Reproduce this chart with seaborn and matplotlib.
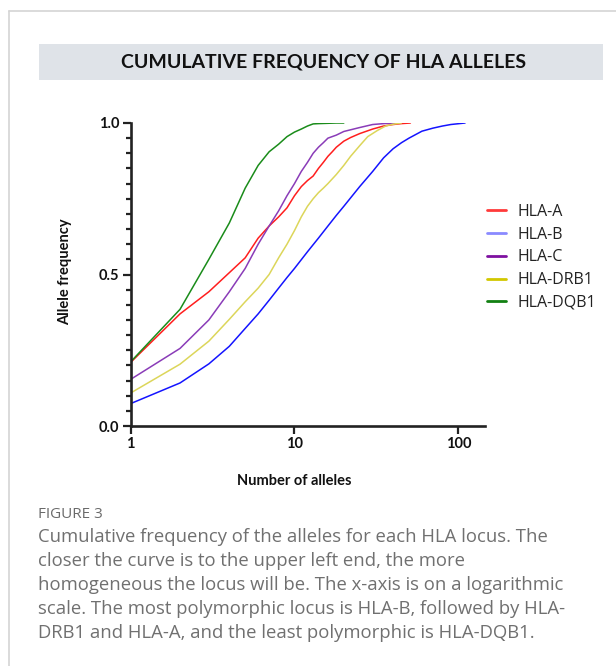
import numpy as np
import pandas as pd
import seaborn as sns
import matplotlib
matplotlib.use('Agg')
import matplotlib.pyplot as plt
from matplotlib.lines import Line2D
from matplotlib.patches import Rectangle

# 데이터
loci = ['HLA-A', 'HLA-B', 'HLA-C', 'HLA-DRB1', 'HLA-DQB1']

a_x = [1, 2, 3, 4, 5, 6, 7, 8, 9, 10, 11, 12, 13, 14, 15, 16, 17, 18, 20, 22, 25, 30, 35, 40, 45, 51]
a_y = [0.21, 0.37, 0.443, 0.506, 0.555, 0.62, 0.66, 0.69, 0.72, 0.76, 0.79, 0.81, 0.825, 0.85, 0.87,
       0.89, 0.905, 0.92, 0.94, 0.952, 0.965, 0.98, 0.99, 0.995, 0.998, 1.0]

b_x = [1, 2, 3, 4, 5, 6, 7, 8, 9, 10, 12, 14, 16, 18, 20, 25, 30, 35, 40, 45, 50, 60, 70, 80, 90, 110]
b_y = [0.074, 0.142, 0.205, 0.263, 0.322, 0.37, 0.415, 0.455, 0.49, 0.52, 0.575, 0.62, 0.66, 0.695,
       0.725, 0.79, 0.84, 0.885, 0.915, 0.935, 0.95, 0.973, 0.983, 0.99, 0.995, 1.0]

c_x = [1, 2, 3, 4, 5, 6, 7, 8, 9, 10, 11, 12, 13, 14, 15, 16, 18, 20, 25, 30, 35, 41]
c_y = [0.154, 0.256, 0.35, 0.443, 0.52, 0.6, 0.66, 0.71, 0.76, 0.80, 0.84, 0.87, 0.9, 0.92, 0.935,
       0.95, 0.96, 0.972, 0.985, 0.995, 0.998, 1.0]

drb1_x = [1, 2, 3, 4, 5, 6, 7, 8, 9, 10, 11, 12, 13, 14, 15, 16, 18, 20, 22, 25, 28, 32, 36, 40, 45]
drb1_y = [0.109, 0.204, 0.28, 0.352, 0.41, 0.455, 0.5, 0.555, 0.6, 0.645, 0.69, 0.725, 0.75, 0.77,
          0.785, 0.8, 0.83, 0.86, 0.89, 0.925, 0.955, 0.975, 0.99, 0.996, 1.0]

dqb1_x = [1, 2, 3, 4, 5, 6, 7, 8, 9, 10, 11, 12, 13, 14, 16, 18, 20]
dqb1_y = [0.212, 0.385, 0.55, 0.67, 0.785, 0.86, 0.905, 0.93, 0.955, 0.97, 0.98, 0.99, 0.997, 0.998,
          0.999, 1.0, 1.0]

line_colors = ['#ff1e1e', '#1414ff', '#8a3cb8', '#dcd65a', '#1a8c1a']
legend_colors = ['#ff3a3a', '#8a8aff', '#7e10a0', '#d2c800', '#128012']

df = pd.concat([
    pd.DataFrame({'x': a_x, 'y': a_y, 'locus': 'HLA-A'}),
    pd.DataFrame({'x': b_x, 'y': b_y, 'locus': 'HLA-B'}),
    pd.DataFrame({'x': c_x, 'y': c_y, 'locus': 'HLA-C'}),
    pd.DataFrame({'x': drb1_x, 'y': drb1_y, 'locus': 'HLA-DRB1'}),
    pd.DataFrame({'x': dqb1_x, 'y': dqb1_y, 'locus': 'HLA-DQB1'}),
])

sns.set_style('ticks')
plt.rcParams['font.family'] = ['Open Sans', 'DejaVu Sans']

fig = plt.figure(figsize=(6.16, 6.66), dpi=100)
W, H = 616, 666

# 외곽 테두리, 제목 배경
fig.add_artist(Line2D([9 / W, 1], [1 - 11 / H, 1 - 11 / H], color='#d4d4d4', lw=1.2))
fig.add_artist(Line2D([9 / W, 9 / W], [0, 1 - 11 / H], color='#d4d4d4', lw=1.2))
fig.add_artist(Rectangle((39 / W, 1 - 80 / H), (603 - 39) / W, 36 / H,
                         facecolor='#dfe3e8', edgecolor='none'))
fig.text(324 / W, 1 - 62.5 / H, 'CUMULATIVE FREQUENCY OF HLA ALLELES', ha='center', va='center',
         fontsize=14, fontweight='bold', color='#111111', family='Lato')

ax = fig.add_axes([130.7 / W, 1 - 426 / H, (485 - 130.7) / W, (426 - 123) / H])
sns.lineplot(data=df, x='x', y='y', hue='locus', hue_order=loci, palette=line_colors,
             linewidth=1.1, legend=False, ax=ax, estimator=None, sort=False)

ax.set_xscale('log')
ax.set_xlim(1, 145.6)
ax.set_ylim(0, 1.0)
ax.set_xticks([1, 10, 100])
ax.set_xticklabels(['1', '10', '100'])
ax.xaxis.set_minor_locator(matplotlib.ticker.NullLocator())
ax.set_yticks([0.0, 0.5, 1.0])
ax.set_yticklabels(['0.0', '0.5', '1.0'])
ax.yaxis.set_minor_locator(matplotlib.ticker.MultipleLocator(0.05))

for s in ['top', 'right']:
    ax.spines[s].set_visible(False)
for s in ['left', 'bottom']:
    ax.spines[s].set_linewidth(1.9)
    ax.spines[s].set_color('#222222')
    ax.spines[s].set_zorder(5)

ax.tick_params(which='major', length=6, width=1.6, color='#222222', pad=2)
ax.tick_params(which='minor', length=3.5, width=1.6, color='#222222')
for lab in ax.get_xticklabels() + ax.get_yticklabels():
    lab.set_fontweight('bold')
    lab.set_fontsize(10.5)
    lab.set_family('Lato')
    lab.set_color('#111111')

ax.set_xlabel('Number of alleles', fontsize=10.5, fontweight='bold', family='Lato', color='#111111')
ax.set_ylabel('Allele frequency', fontsize=10.5, fontweight='bold', family='Lato', color='#111111')
ax.xaxis.set_label_coords(0.461, -0.16)
ax.yaxis.set_label_coords(-0.166, 0.508)

handles = [Line2D([0], [0], color=c, lw=2) for c in legend_colors]
leg = ax.legend(handles, loci, loc='upper left', bbox_to_anchor=(0.965, 0.78), frameon=False,
                fontsize=11.5, handlelength=1.2, handletextpad=0.7, labelspacing=0.42)
for t in leg.get_texts():
    t.set_color('#222222')

# 캡션
fig.text(38 / W, 1 - 515 / H, 'FIGURE 3', ha='left', va='center', fontsize=11, color='#6a6a6a')
caption = ['Cumulative frequency of the alleles for each HLA locus. The',
           'closer the curve is to the upper left end, the more',
           'homogeneous the locus will be. The x-axis is on a logarithmic',
           'scale. The most polymorphic locus is HLA-B, followed by HLA-',
           'DRB1 and HLA-A, and the least polymorphic is HLA-DQB1.']
for i, line in enumerate(caption):
    fig.text(38 / W, 1 - (536.5 + 24 * i) / H, line, ha='left', va='center', fontsize=13.3,
             color='#707070')

fig.savefig('out.png', dpi=100)
